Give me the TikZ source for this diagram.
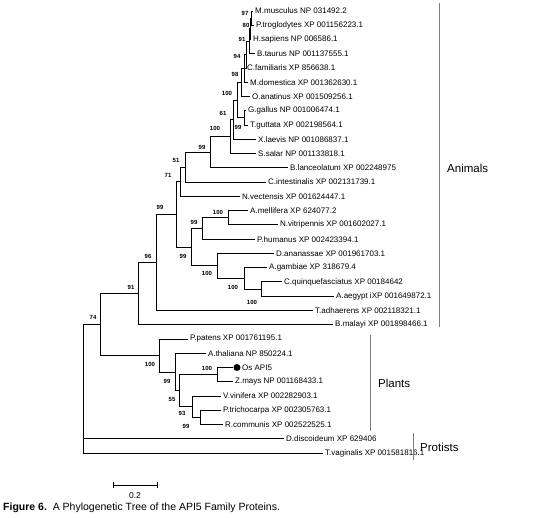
\documentclass[tikz,border=0pt]{standalone}
\usepackage{fontspec}
\setmainfont{Liberation Sans}
\begin{document}
\begin{tikzpicture}[x=1pt,y=-1pt,
  br/.style={line width=0.9pt, black},
  leaf/.style={anchor=west, inner xsep=2pt, inner ysep=0pt, font=\fontsize{8}{9}\selectfont},
  bs/.style={inner sep=0pt, font=\fontsize{6}{7}\selectfont\bfseries},
  grp/.style={draw=gray, line width=0.8pt},
  grplab/.style={anchor=west, inner sep=0pt, font=\fontsize{11.5}{13}\selectfont}]
\fill[white] (0,0) rectangle (543,518);
\useasboundingbox (0,0) rectangle (543,518);
% leaves
\node[leaf] (Mm)  at (253,11.00)  {M.musculus NP 031492.2};
\node[leaf] (Pt)  at (254,25.26)  {P.troglodytes XP 001156223.1};
\node[leaf] (Hs)  at (251,39.52)  {H.sapiens NP 006586.1};
\node[leaf] (Bt)  at (255,53.78)  {B.taurus NP 001137555.1};
\node[leaf] (Cf)  at (245,68.04)  {C.familiaris XP 856638.1};
\node[leaf] (Md)  at (248,82.30)  {M.domestica XP 001362630.1};
\node[leaf] (Oa)  at (250,96.56)  {O.anatinus XP 001509256.1};
\node[leaf] (Gg)  at (246,110.82) {G.gallus NP 001006474.1};
\node[leaf] (Tg)  at (248,125.08) {T.guttata XP 002198564.1};
\node[leaf] (Xl)  at (256,139.34) {X.laevis NP 001086837.1};
\node[leaf] (Ss)  at (256,153.60) {S.salar NP 001133818.1};
\node[leaf] (Bl)  at (288,167.86) {B.lanceolatum XP 002248975};
\node[leaf] (Ci)  at (266,182.12) {C.intestinalis XP 002131739.1};
\node[leaf] (Nv)  at (240,196.38) {N.vectensis XP 001624447.1};
\node[leaf] (Am)  at (248,210.64) {A.mellifera XP 624077.2};
\node[leaf] (Nvi) at (278,224.90) {N.vitripennis XP 001602027.1};
\node[leaf] (Ph)  at (255,239.16) {P.humanus XP 002423394.1};
\node[leaf] (Da)  at (274,253.42) {D.ananassae XP 001961703.1};
\node[leaf] (Ag)  at (267,267.68) {A.gambiae XP 318679.4};
\node[leaf] (Cq)  at (282,281.94) {C.quinquefasciatus XP 00184642};
\node[leaf] (Aa)  at (334,296.20) {A.aegypt iXP 001649872.1};
\node[leaf] (Ta)  at (313,310.46) {T.adhaerens XP 002118321.1};
\node[leaf] (Bm)  at (333,324.72) {B.malayi XP 001898466.1};
\node[leaf] (Pp)  at (188,338.98) {P.patens XP 001761195.1};
\node[leaf] (At)  at (206,353.24) {A.thaliana NP 850224.1};
\node[circle, fill=black, inner sep=0pt, minimum size=7pt] (dot) at (237,367.50) {};
\node[leaf] (Os)  at (240,367.50) {Os API5};
\node[leaf] (Zm)  at (233,381.76) {Z.mays NP 001168433.1};
\node[leaf] (Vv)  at (221,396.02) {V.vinifera XP 002282903.1};
\node[leaf] (Ptr) at (221,410.28) {P.trichocarpa XP 002305763.1};
\node[leaf] (Rc)  at (223,424.54) {R.communis XP 002522525.1};
\node[leaf] (Dd)  at (284,438.80) {D.discoideum XP 629406};
\node[leaf] (Tv)  at (323,453.06) {T.vaginalis XP 001581816.1};
% internal nodes
\coordinate (N97) at (251,18.13);
\coordinate (N80) at (250,28.83);
\coordinate (N91) at (249,41.30);
\coordinate (N94) at (246,54.67);
\coordinate (N98) at (244,68.49);
\coordinate (Mam) at (241,82.52);
\coordinate (Bird) at (244,117.95);
\coordinate (Amn) at (237,100.24);
\coordinate (Tet) at (233,119.79);
\coordinate (Vrt) at (230,136.70);
\coordinate (L) at (210,152.28);
\coordinate (K) at (185,167.20);
\coordinate (E) at (180,181.79);
\coordinate (Hym) at (228,217.77);
\coordinate (G) at (202,228.47);
\coordinate (J) at (261,289.07);
\coordinate (I) at (244,278.38);
\coordinate (H) at (217,265.90);
\coordinate (F) at (191,247.19);
\coordinate (D) at (176,214.49);
\coordinate (C) at (156,262.48);
\coordinate (B) at (138,293.60);
\coordinate (U) at (200,417.41);
\coordinate (T) at (192,406.72);
\coordinate (S) at (217,374.63);
\coordinate (R) at (179,390.68);
\coordinate (Q) at (175,371.96);
\coordinate (P) at (159,355.47);
\coordinate (A) at (100,324.54);
\coordinate (Root) at (83,388.80);
% branches
\draw[br] (N97) |- (Mm.west);  \draw[br] (N97) |- (Pt.west);
\draw[br] (N80) |- (N97);      \draw[br] (N80) |- (Hs.west);
\draw[br] (N91) |- (N80);      \draw[br] (N91) |- (Bt.west);
\draw[br] (N94) |- (N91);      \draw[br] (N94) |- (Cf.west);
\draw[br] (N98) |- (N94);      \draw[br] (N98) |- (Md.west);
\draw[br] (Mam) |- (N98);      \draw[br] (Mam) |- (Oa.west);
\draw[br] (Bird) |- (Gg.west); \draw[br] (Bird) |- (Tg.west);
\draw[br] (Amn) |- (Mam);      \draw[br] (Amn) |- (Bird);
\draw[br] (Tet) |- (Amn);      \draw[br] (Tet) |- (Xl.west);
\draw[br] (Vrt) |- (Tet);      \draw[br] (Vrt) |- (Ss.west);
\draw[br] (L) |- (Vrt);        \draw[br] (L) |- (Bl.west);
\draw[br] (K) |- (L);          \draw[br] (K) |- (Ci.west);
\draw[br] (E) |- (K);          \draw[br] (E) |- (Nv.west);
\draw[br] (Hym) |- (Am.west);  \draw[br] (Hym) |- (Nvi.west);
\draw[br] (G) |- (Hym);        \draw[br] (G) |- (Ph.west);
\draw[br] (J) |- (Cq.west);    \draw[br] (J) |- (Aa.west);
\draw[br] (I) |- (Ag.west);    \draw[br] (I) |- (J);
\draw[br] (H) |- (Da.west);    \draw[br] (H) |- (I);
\draw[br] (F) |- (G);          \draw[br] (F) |- (H);
\draw[br] (D) |- (E);          \draw[br] (D) |- (F);
\draw[br] (C) |- (D);          \draw[br] (C) |- (Ta.west);
\draw[br] (B) |- (C);          \draw[br] (B) |- (Bm.west);
\draw[br] (U) |- (Ptr.west);   \draw[br] (U) |- (Rc.west);
\draw[br] (T) |- (Vv.west);    \draw[br] (T) |- (U);
\draw[br] (S) |- (dot.west);   \draw[br] (S) |- (Zm.west);
\draw[br] (R) |- (S);          \draw[br] (R) |- (T);
\draw[br] (Q) |- (At.west);    \draw[br] (Q) |- (R);
\draw[br] (P) |- (Pp.west);    \draw[br] (P) |- (Q);
\draw[br] (A) |- (B);          \draw[br] (A) |- (P);
\draw[br] (Root) |- (A);       \draw[br] (Root) |- (Dd.west);
\draw[br] (Root) |- (Tv.west);
% bootstrap values
\node[bs] (b1) at (245,13) {97};
\node[bs] (b2) at (246,25) {80};
\node[bs] (b3) at (242,39) {91};
\node[bs] (b4) at (237,56) {94};
\node[bs] (b5) at (235,74) {98};
\node[bs] (b6) at (227,93) {100};
\node[bs] (b7) at (223,113) {61};
\node[bs] (b8) at (215,128) {100};
\node[bs] (b9) at (238,127) {99};
\node[bs] (b10) at (202,147) {99};
\node[bs] (b11) at (176,160) {51};
\node[bs] (b12) at (168,175) {71};
\node[bs] (b13) at (160,207) {99};
\node[bs] (b14) at (218,212) {100};
\node[bs] (b15) at (194,222) {99};
\node[bs] (b16) at (183,256) {99};
\node[bs] (b17) at (207,273) {100};
\node[bs] (b18) at (233,287) {100};
\node[bs] (b19) at (252,302) {100};
\node[bs] (b20) at (148,256) {96};
\node[bs] (b21) at (131,287) {91};
\node[bs] (b22) at (93,317) {74};
\node[bs] (b23) at (150,364) {100};
\node[bs] (b24) at (207,368) {100};
\node[bs] (b25) at (167,381) {99};
\node[bs] (b26) at (172,399) {55};
\node[bs] (b27) at (182,413) {93};
\node[bs] (b28) at (186,426) {99};
% groups
\coordinate (an1) at (439,3);  \coordinate (an2) at (439,327);
\draw[grp] (an1) -- (an2);
\node[grplab] (animals) at (447,168) {Animals};
\coordinate (pl1) at (370,335); \coordinate (pl2) at (370,431);
\draw[grp] (pl1) -- (pl2);
\node[grplab] (plants) at (378,383) {Plants};
\coordinate (pr1) at (413,433); \coordinate (pr2) at (413,460);
\draw[grp] (pr1) -- (pr2);
\node[grplab] (protists) at (420,447) {Protists};
% scale bar
\coordinate (sb1) at (113,485); \coordinate (sb2) at (157,485);
\draw[br] (sb1) -- (sb2);
\draw[br] ([yshift=3pt]sb1) -- ([yshift=-3pt]sb1);
\draw[br] ([yshift=3pt]sb2) -- ([yshift=-3pt]sb2);
\node[inner sep=0pt, font=\fontsize{8.5}{10}\selectfont] (sbl) at (135,496) {0.2};
% caption
\node[anchor=west, inner sep=0pt, font=\fontsize{10.5}{12}\selectfont] (cap) at (3,508)
  {\textbf{Figure 6.}\ \ A Phylogenetic Tree of the API5 Family Proteins.};
\end{tikzpicture}
\end{document}
